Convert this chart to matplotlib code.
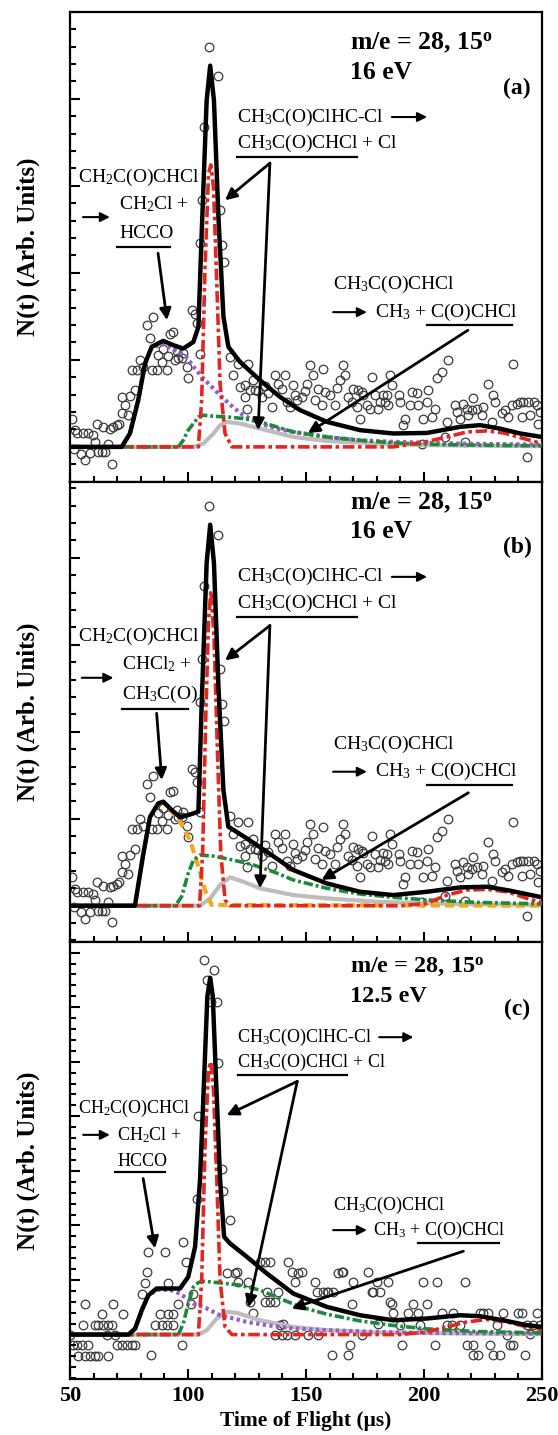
import matplotlib
matplotlib.use("Agg")
import matplotlib.pyplot as plt
from matplotlib.ticker import MultipleLocator

plt.rcParams['font.family'] = ['Liberation Serif', 'DejaVu Serif']
plt.rcParams['mathtext.fontset'] = 'custom'
plt.rcParams['mathtext.rm'] = 'Liberation Serif'
plt.rcParams['mathtext.it'] = 'Liberation Serif:italic'
plt.rcParams['mathtext.bf'] = 'Liberation Serif:bold'

# ---------------- data (TOF in us, N(t) in arbitrary units) ----------------
# measured points, panels (a) and (b) share the same spectrum
points_ab = [
    (50.7, 1.63), (51.5, -0.1), (52.1, 0.96), (53.1, 0.77), (54.5, -0.38), (55.6, 0.77),
    (56.4, -0.77), (57.8, 0.77), (58.6, -0.35), (59.9, 0.67), (60.6, 0.3), (61.3, 1.34),
    (62.0, -0.29), (63.4, -0.29), (64.1, 1.15), (64.8, -0.29), (66.2, 0.19), (66.8, 1.05),
    (67.7, -0.96), (68.4, 1.15), (69.8, 1.25), (70.9, 1.34), (71.9, 1.92), (72.2, 2.87),
    (73.3, 2.39), (74.7, 1.82), (75.4, 2.9), (76.1, 4.41), (77.5, 3.26), (78.2, 4.41),
    (79.7, 4.98), (81.1, 4.6), (82.5, 6.99), (83.9, 6.23), (84.6, 4.4), (85.3, 7.47),
    (86.7, 4.41), (87.4, 5.3), (88.8, 4.89), (89.5, 5.6), (91.0, 4.41), (91.7, 5.2),
    (92.4, 6.51), (93.8, 6.61), (94.5, 4.98), (95.2, 5.5), (95.9, 5.08), (97.3, 5.08),
    (98.0, 5.4), (99.4, 4.6), (100.1, 3.93), (101.6, 7.85), (103.0, 7.66), (103.7, 7.09),
    (105.1, 5.36), (105.1, 11.7), (105.8, 14.2), (106.9, 18.4), (109.0, 23.0), (112.7, 21.3),
    (113.6, 13.6), (114.5, 11.6), (115.4, 10.6), (117.8, 5.17), (119.2, 4.12), (121.3, 4.79),
    (122.0, 3.45), (124.1, 3.54), (124.2, 2.87), (124.9, 2.2), (125.5, 4.79), (126.3, 3.26),
    (127.7, 3.83), (128.4, 3.26), (129.8, 3.2), (131.2, 2.87), (132.6, 3.5), (134.0, 3.07),
    (135.4, 2.3), (136.8, 4.12), (138.3, 3.64), (139.7, 3.3), (141.1, 4.12), (141.8, 2.59),
    (143.2, 2.3), (144.6, 3.54), (145.3, 3.0), (146.0, 2.68), (148.2, 2.87), (149.6, 3.2),
    (150.3, 3.64), (151.7, 4.69), (153.1, 4.12), (153.8, 2.68), (155.2, 3.3), (156.6, 2.4),
    (157.3, 4.5), (158.0, 3.16), (160.2, 2.97), (162.3, 2.39), (163.0, 3.4), (164.4, 3.83),
    (165.8, 4.69), (166.5, 4.12), (167.9, 2.87), (169.3, 2.6), (170.0, 3.35), (171.5, 2.3),
    (172.2, 3.26), (172.9, 1.63), (173.6, 3.16), (174.3, 3.0), (175.7, 2.39), (177.1, 2.2),
    (177.8, 4.02), (179.2, 2.97), (180.6, 2.2), (181.4, 2.6), (182.8, 3.0), (183.5, 2.59),
    (184.2, 2.97), (184.9, 2.39), (185.6, 4.12), (186.3, 3.54), (189.2, 2.97), (189.9, 2.59),
    (191.3, 1.25), (192.0, 1.63), (194.1, 2.39), (194.8, 3.16), (196.9, 3.07), (197.6, 2.39),
    (199.0, 0.19), (199.7, 1.63), (201.2, 2.59), (201.9, 3.26), (203.3, 1.72), (204.7, 2.2),
    (205.4, 3.93), (207.5, 4.31), (208.9, 0.57), (209.6, 1.44), (210.3, 4.98), (213.2, 2.39),
    (213.9, 2.01), (215.3, 1.63), (216.7, 2.49), (217.4, 0.29), (218.1, 2.2), (218.8, 1.82),
    (220.2, 2.11), (220.9, 2.78), (222.3, 2.2), (224.5, 1.82), (225.2, 2.3), (227.3, 3.64),
    (228.7, 1.44), (229.4, 2.97), (230.1, 2.59), (232.9, 1.92), (234.3, 2.11), (235.8, 1.72),
    (237.2, 2.39), (237.9, 4.79), (239.3, 2.49), (240.7, 2.59), (241.4, 1.72), (242.1, 2.59),
    (243.5, -0.57), (244.2, 2.59), (244.9, 1.82), (246.4, 2.59), (247.8, 2.39), (248.5, 1.34),
    (249.2, 2.01),
]
tof_ab = [p[0] for p in points_ab]
n_ab = [p[1] for p in points_ab]

# measured points, panel (c)
points_c = [
    (50.0, 0.0), (51.4, -0.98), (52.8, -0.98), (53.5, -1.99), (54.9, -0.98), (55.6, 0.92),
    (56.4, 2.84), (56.4, -1.99), (57.8, -0.98), (58.5, -1.99), (60.6, 0.92), (60.6, -1.99),
    (62.0, 0.92), (62.0, -1.99), (63.4, 1.87), (64.1, 0.92), (65.5, 0.0), (66.2, 0.92),
    (66.2, -1.99), (67.7, 0.92), (68.4, 2.84), (69.1, 0.0), (69.8, -0.98), (71.9, -0.98),
    (72.6, 1.87), (74.0, -0.98), (76.1, -0.98), (77.5, -0.98), (80.4, 3.76), (81.8, 4.74),
    (82.5, 5.75), (83.2, 7.58), (84.3, -1.9), (86.0, 0.92), (88.1, 1.87), (88.8, 0.92),
    (90.3, 7.58), (91.0, 0.92), (91.4, 4.74), (91.7, 1.87), (93.8, 0.92), (93.8, 1.87),
    (95.9, 2.78), (97.3, -0.98), (98.0, 8.5), (99.0, 6.67), (101.3, 2.78), (102.3, 3.7),
    (103.7, 12.4), (104.4, 20.0), (106.8, 34.3), (107.9, 32.5), (109.6, 30.5), (111.0, 33.4),
    (112.4, 30.5), (112.9, 24.9), (114.3, 15.2), (115.0, 13.2), (116.4, 5.6), (117.8, 10.5),
    (119.9, 5.6), (120.6, 5.75), (121.3, 4.83), (125.5, 4.83), (126.3, 3.0), (127.7, 1.93),
    (130.5, 6.67), (132.6, 6.67), (132.6, 3.0), (133.3, 3.91), (134.7, 6.67), (134.7, 3.0),
    (136.8, 3.0), (136.8, -0.06), (138.3, 3.91), (139.0, 0.86), (139.7, -0.06), (140.4, 1.0),
    (141.8, -0.06), (142.5, 6.67), (143.9, 5.75), (145.3, 4.83), (145.3, -0.06), (146.8, 5.6),
    (148.1, 5.75), (151.0, -0.06), (153.8, 4.83), (154.5, 3.91), (155.2, -0.06), (157.3, 3.91),
    (158.8, 3.91), (159.4, 3.91), (160.9, -1.9), (161.6, 3.91), (163.7, 5.6), (165.1, 5.75),
    (165.8, 5.75), (167.9, -1.9), (168.6, -0.98), (169.3, 2.84), (170.0, 4.83), (173.6, -0.06),
    (176.4, 5.75), (177.8, 3.91), (178.5, 3.91), (179.9, 4.83), (180.6, 1.0), (181.4, 3.91),
    (184.9, 4.83), (185.6, 3.0), (186.3, 2.84), (187.0, 1.93), (189.8, 0.86), (190.5, -0.98),
    (193.4, 1.93), (195.5, 2.84), (197.6, 1.93), (198.3, 0.86), (199.7, 4.83), (201.1, 2.84),
    (204.7, -0.98), (205.4, 4.83), (207.5, 1.93), (209.6, 0.86), (211.7, 0.86), (212.4, 1.93),
    (215.3, 0.86), (217.4, 4.83), (218.1, -0.98), (220.9, -0.98), (220.9, -1.9), (223.0, -1.9),
    (223.7, 1.93), (225.1, 1.93), (227.3, 1.93), (228.0, -0.98), (229.4, -1.9), (230.8, 0.86),
    (232.2, -1.9), (233.6, 1.93), (235.0, -0.06), (236.4, -0.98), (237.9, -0.98), (240.0, 1.93),
    (241.4, 1.93), (242.8, -1.9), (243.5, 0.86), (244.9, 0.09), (246.3, 0.86), (247.7, 1.93),
    (249.2, 0.86),
]
tof_c = [p[0] for p in points_c]
n_c = [p[1] for p in points_c]

# fitted curves, panel (a)
total_a_t = [50, 71.9, 75.4, 78.9, 81.8, 84.6, 89.5, 93.8, 98.0, 102.3, 104.4, 105.8, 107.9, 109.4,
             111.0, 112.9, 115.0, 117.1, 122.0, 130.5, 139.0, 147.5, 158.8, 172.9, 187.0, 201.2,
             215.3, 223.7, 232.2, 240.7, 250]
total_a = [0, 0, 0.77, 2.68, 4.79, 5.75, 6.09, 5.84, 5.65, 6.03, 6.9, 12.26, 19.9, 21.9,
           19.9, 13.2, 7.5, 5.75, 4.89, 3.83, 2.87, 2.11, 1.44, 0.96, 0.77, 0.80,
           1.15, 1.25, 1.05, 0.77, 0.57]
red_a_t = [50, 104.4, 105.8, 107.2, 108.7, 109.7, 110.8, 112.2, 113.6, 115.7, 118.6, 187, 201.1,
           209.7, 218.2, 226.7, 233.8, 242.2, 250]
red_a = [0, 0, 2.7, 10.3, 15.7, 16.2, 14.9, 9.4, 3.6, 0.77, 0, 0, 0.3,
         0.57, 0.86, 0.92, 0.8, 0.48, 0.19]
green_a_t = [50, 95.9, 98, 100.1, 102.3, 104.4, 106.5, 110.8, 116.4, 123.4, 130.5, 137.6, 144.6,
             158.8, 172.9, 187, 201.2, 222.3, 250]
green_a = [0, 0, 0.38, 0.96, 1.34, 1.72, 1.82, 1.76, 1.72, 1.63, 1.44, 1.15, 0.86,
           0.57, 0.38, 0.23, 0.15, 0.1, 0.06]
gray_a_t = [50, 102.3, 106.5, 110.8, 113.6, 116.4, 122, 130.5, 144.6, 158.8, 180, 201, 250]
gray_a = [0, 0, 0.19, 0.77, 1.25, 1.44, 1.34, 1.05, 0.57, 0.34, 0.19, 0.1, 0.04]
purple_a_t = [50, 72, 75.4, 78.9, 81.8, 84.6, 89.5, 93.8, 98, 99.4, 102.3, 106.5, 110.8, 115,
              119.3, 123.4, 130.5, 137.6, 144.6, 158.8, 172.9, 187, 215.3, 250]
purple_a = [0, 0, 0.77, 2.68, 4.79, 5.7, 5.9, 5.6, 5.3, 5.17, 4.6, 3.93, 3.35, 2.78,
            2.26, 1.82, 1.34, 1.05, 0.86, 0.57, 0.38, 0.29, 0.19, 0.13]

# fitted curves, panel (b)
total_b_t = [50, 77.5, 81.1, 83.9, 87.4, 89.5, 93.1, 96.6, 100.1, 104.4, 105.8, 107.9, 109.4, 111,
             112.9, 115, 117.1, 124.9, 133.4, 144.6, 158.8, 172.9, 187, 201.2, 215.3, 226.7,
             236.6, 250]
total_b = [0, 0, 3.0, 5.1, 5.88, 5.98, 5.5, 5.08, 5.21, 5.4, 11.6, 19.7, 21.9, 19.7,
           12.6, 6.65, 4.54, 3.87, 3.1, 2.05, 1.28, 0.8, 0.61, 0.8, 1.05, 1.09,
           0.86, 0.48]
red_b_t = [50, 104.9, 106.2, 107.5, 108.7, 109.7, 111.0, 112.5, 113.9, 115.7, 117.8, 190, 201.1,
           209.7, 218.2, 226.7, 235.2, 243.6, 250]
red_b = [0, 0, 3.0, 10.7, 16.4, 18.1, 15.5, 8.75, 3.0, 0.33, 0, 0, 0.13,
         0.61, 0.9, 0.94, 0.8, 0.42, 0.17]
green_b_t = [50, 94.6, 97.3, 100.1, 102.3, 105.1, 110.8, 119.3, 127.7, 136.2, 144.6, 158.8, 172.9,
             187, 201.2, 222.3, 250]
green_b = [0, 0, 0.52, 1.86, 2.62, 2.91, 2.85, 2.62, 2.34, 1.95, 1.48, 1.0, 0.67,
           0.48, 0.33, 0.19, 0.1]
gray_b_t = [50, 105.1, 109.4, 113.6, 117.8, 123.4, 130.5, 144.6, 158.8, 180, 201, 250]
gray_b = [0, 0, 0.42, 1.19, 1.63, 1.38, 1.0, 0.61, 0.42, 0.23, 0.13, 0.04]
orange_b_t = [50, 77.5, 81.1, 83.9, 87.4, 89.5, 93.1, 96.6, 100.8, 104.4, 107.2, 110, 250]
orange_b = [0, 0, 3.0, 5.1, 5.85, 5.95, 5.4, 4.83, 3.78, 2.24, 0.9, 0.04, 0]

# fitted curves, panel (c)
total_c_t = [50, 74.8, 77.6, 80.4, 83.2, 86.7, 92.4, 96.6, 100.1, 103.0, 105.1, 106.8, 108.2, 109.4,
             110.5, 111.9, 113.6, 115.3, 117.8, 124.9, 133.4, 144.6, 158.8, 172.9, 187, 201.2,
             215.3, 223.7, 233.6, 243.5, 250]
total_c = [0, 0, 0.55, 2.23, 3.6, 4.22, 4.22, 4.22, 5.29, 8.04, 14.2, 23.3, 31.0, 32.7,
           31.0, 23.3, 14.2, 8.96, 8.35, 7.13, 5.6, 3.76, 2.54, 1.77, 1.31, 1.47,
           1.77, 1.68, 1.31, 0.86, 0.7]
red_c_t = [50, 104.4, 105.8, 107.2, 108.7, 109.7, 110.8, 112.2, 113.6, 115.7, 118.6, 190, 201.1,
           209.7, 218.2, 226.7, 235.2, 243.6, 250]
red_c = [0, 0, 4.98, 17.2, 24.3, 25.0, 22.4, 14.2, 4.98, 0.7, 0, 0, 0.24,
         0.7, 1.16, 1.38, 1.16, 0.7, 0.46]
green_c_t = [50, 95.9, 98, 100.1, 102.3, 104.4, 106.5, 113.6, 122, 130.5, 139, 147.5, 158.8,
             172.9, 187, 201.2, 222.3, 250]
green_c = [0, 0, 1.0, 2.84, 4.37, 4.77, 4.89, 4.74, 4.53, 4.07, 3.3, 2.54, 1.87,
           1.25, 0.83, 0.52, 0.28, 0.15]
gray_c_t = [50, 104.4, 108, 112.2, 116.4, 120.6, 130.5, 144.6, 158.8, 180, 250]
gray_c = [0, 0, 0.4, 1.47, 2.08, 1.99, 1.31, 0.7, 0.4, 0.18, 0.03]
purple_c_t = [50, 74.8, 77.6, 80.4, 83.2, 86.7, 92.4, 96.6, 102.3, 108, 113.6, 119.3, 124.9,
              133.4, 144.6, 158.8, 180, 201, 250]
purple_c = [0, 0, 0.55, 2.2, 3.55, 4.1, 4.1, 3.76, 2.84, 2.39, 1.77, 1.47, 1.16,
            0.86, 0.55, 0.4, 0.24, 0.15, 0.09]

x_ticks = [50, 100, 150, 200, 250]

# ---------------- styles ----------------
RED = '#e3261f'
GREEN = '#1b8a3a'
GRAY = '#bdbdbd'
PURPLE = '#9a5cc6'
ORANGE = '#f5a623'

fig = plt.figure(figsize=(5.58, 14.35), dpi=100)
W = 472 / 558
L = 70 / 558
ax_a = fig.add_axes([L, 1 - 481.7 / 1435, W, 470 / 1435])
ax_b = fig.add_axes([L, 1 - 941.7 / 1435, W, 460 / 1435])
ax_c = fig.add_axes([L, 1 - 1379.3 / 1435, W, 437.6 / 1435])
ax_a.set_ylim(-2.0, 25.0)
ax_b.set_ylim(-2.07, 24.37)
ax_c.set_ylim(-4.1, 36.0)


def base(ax):
    ax.set_xlim(50, 250)
    ax.plot(tof_ab if ax is not ax_c else tof_c, n_ab if ax is not ax_c else n_c,
            'o', ms=6.2, mfc='none', mec='#3a3a3a', mew=0.9, zorder=1)
    ax.xaxis.set_major_locator(MultipleLocator(50))
    ax.xaxis.set_minor_locator(MultipleLocator(10))
    ax.yaxis.set_major_locator(MultipleLocator(5))
    ax.yaxis.set_minor_locator(MultipleLocator(1))
    ax.tick_params(which='both', direction='in', top=False, right=False, width=1.5)
    ax.tick_params(which='major', length=7)
    ax.tick_params(which='minor', length=4)
    ax.set_yticklabels([])
    for s in ax.spines.values():
        s.set_linewidth(1.6)
    ax.set_ylabel('N(t) (Arb. Units)', fontsize=18, fontweight='bold')
    ax.yaxis.set_label_coords(-0.064, 0.5)


def curves(ax, red, green, gray, other, total, other_color, other_dash):
    ax.plot(*gray, color=GRAY, lw=3, zorder=2)
    l, = ax.plot(*other, color=other_color, lw=3, zorder=2)
    l.set_dashes(other_dash)
    l, = ax.plot(*green, color=GREEN, lw=2.6, zorder=3)
    l.set_dashes((2.6, 0.8, 0.8, 0.8))
    l, = ax.plot(*red, color=RED, lw=2.6, zorder=3)
    l.set_dashes((3.2, 1.0, 1.0, 1.0))
    ax.plot(*total, color='k', lw=3.2, zorder=4)


def arrow(ax, xy, xytext, lw=2.0, ms=17):
    ax.annotate('', xy=xy, xytext=xytext,
                arrowprops=dict(arrowstyle='-|>', color='k', lw=lw, mutation_scale=ms,
                                shrinkA=0, shrinkB=0), zorder=6)


def line(ax, x0, x1, y):
    ax.plot([x0, x1], [y, y], color='k', lw=1.6, zorder=6)


def labels(ax, p):
    fs = p['fs']
    big = p['big']
    ax.text(168.6, p['me'], 'm/e = 28, 15$^{\\mathbf{o}}$', fontsize=big, fontweight='bold', va='center')
    ax.text(168.6, p['ev'], p['ev_txt'], fontsize=big, fontweight='bold', va='center')
    ax.text(239.4, p['tag'], p['tag_txt'], fontsize=17, fontweight='bold', va='center', ha='center')
    # Cl loss channel
    ax.text(120.7, p['cl1'], 'CH$_3$C(O)ClHC-Cl', fontsize=fs, va='center')
    arrow(ax, (p['cl_arr'][1], p['cl1']), (p['cl_arr'][0], p['cl1']), lw=1.5, ms=14)
    ax.text(120.7, p['cl2'], 'CH$_3$C(O)CHCl + Cl', fontsize=fs, va='center')
    line(ax, p['cl_ul'][0], p['cl_ul'][1], p['cl_ul'][2])
    arrow(ax, p['cl_t1'], p['cl_o'])
    arrow(ax, p['cl_t2'], p['cl_o'])
    # early channel
    ax.text(53.2, p['e1'], 'CH$_2$C(O)CHCl', fontsize=fs, va='center')
    arrow(ax, (p['e_arr'][1], p['e_arr'][2]), (p['e_arr'][0], p['e_arr'][2]), lw=1.5, ms=14)
    ax.text(p['e_x'], p['e2'], p['e2_txt'], fontsize=fs, va='center')
    ax.text(p['e_x'], p['e3'], p['e3_txt'], fontsize=fs, va='center')
    line(ax, p['e_ul'][0], p['e_ul'][1], p['e_ul'][2])
    arrow(ax, p['e_t'], p['e_o'])
    # CH3 loss channel
    ax.text(161.5, p['m1'], 'CH$_3$C(O)CHCl', fontsize=fs, va='center')
    arrow(ax, (175.8, p['m2']), (161.5, p['m2']), lw=1.5, ms=14)
    ax.text(p['m_x'], p['m2'], 'CH$_3$ + C(O)CHCl', fontsize=fs, va='center')
    line(ax, p['m_ul'][0], p['m_ul'][1], p['m_ul'][2])
    arrow(ax, p['m_t'], p['m_o'])


for ax in (ax_a, ax_b, ax_c):
    base(ax)

curves(ax_a, (red_a_t, red_a), (green_a_t, green_a), (gray_a_t, gray_a),
       (purple_a_t, purple_a), (total_a_t, total_a), PURPLE, (0.8, 0.8))
curves(ax_b, (red_b_t, red_b), (green_b_t, green_b), (gray_b_t, gray_b),
       (orange_b_t, orange_b), (total_b_t, total_b), ORANGE, (2.2, 1.2))
curves(ax_c, (red_c_t, red_c), (green_c_t, green_c), (gray_c_t, gray_c),
       (purple_c_t, purple_c), (total_c_t, total_c), PURPLE, (0.8, 0.8))

labels(ax_a, dict(fs=14, big=18.5, me=23.2, ev=21.5, ev_txt='16 eV', tag=20.6, tag_txt='(a)',
                  cl1=18.95, cl_arr=(186.4, 201.3), cl2=17.45, cl_ul=(120.8, 171.6, 16.65),
                  cl_o=(134.7, 16.3), cl_t1=(115.7, 14.17), cl_t2=(129.7, 0.96),
                  e1=15.5, e_arr=(55.5, 66.9, 13.2), e_x=70.8, e2=13.94, e2_txt='CH$_2$Cl +',
                  e3=12.28, e3_txt='HCCO', e_ul=(69.9, 92.4, 11.48),
                  e_o=(87.3, 11.13), e_t=(91.1, 7.28),
                  m1=9.35, m2=7.74, m_x=179.2, m_ul=(201.3, 237.3, 7.0),
                  m_o=(218.6, 6.7), m_t=(150.8, 0.79)))
labels(ax_b, dict(fs=14, big=18.5, me=23.1, ev=21.5, ev_txt='16 eV', tag=20.6, tag_txt='(b)',
                  cl1=18.9, cl_arr=(186.4, 201.3), cl2=17.4, cl_ul=(120.8, 171.6, 16.6),
                  cl_o=(134.7, 16.1), cl_t1=(115.7, 14.1), cl_t2=(130.5, 1.0),
                  e1=15.46, e_arr=(55.0, 68.4, 13.1), e_x=71.9, e2=13.87, e2_txt='CHCl$_2$ +',
                  e3=12.17, e3_txt='CH$_3$C(O)', e_ul=(71.9, 99.9, 11.29),
                  e_o=(86.7, 11.06), e_t=(88.9, 7.22),
                  m1=9.24, m2=7.7, m_x=179.2, m_ul=(201.3, 237.3, 6.94),
                  m_o=(218.8, 6.49), m_t=(156.6, 1.48)))
labels(ax_c, dict(fs=13, big=17.5, me=33.6, ev=31.0, ev_txt='12.5 eV', tag=29.75, tag_txt='(c)',
                  cl1=27.25, cl_arr=(181.0, 195.5), cl2=24.9, cl_ul=(121.3, 167.2, 23.8),
                  cl_o=(146.3, 23.2), cl_t1=(116.4, 20.1), cl_t2=(125.6, 2.5),
                  e1=20.7, e_arr=(55.6, 66.9, 18.3), e_x=70.0, e2=18.3, e2_txt='CH$_2$Cl +',
                  e3=15.9, e3_txt='HCCO', e_ul=(69.0, 90.3, 14.9),
                  e_o=(81.0, 14.3), e_t=(86.0, 7.9),
                  m1=11.8, m2=9.57, m_x=178.3, m_ul=(197.6, 231.9, 8.35),
                  m_o=(216.7, 7.64), m_t=(143.9, 2.39)))

for ax in (ax_a, ax_b):
    ax.set_xticklabels([])
ax_c.set_xticks(x_ticks)
ax_c.set_xticklabels([str(v) for v in x_ticks], fontsize=16, fontweight='bold')
ax_c.tick_params(axis='x', pad=5)
ax_c.set_xlabel('Time of Flight (\u03bcs)', fontsize=15.5, fontweight='bold')
ax_c.xaxis.set_label_coords(0.5, -0.072)

fig.savefig('out.png', dpi=100)
